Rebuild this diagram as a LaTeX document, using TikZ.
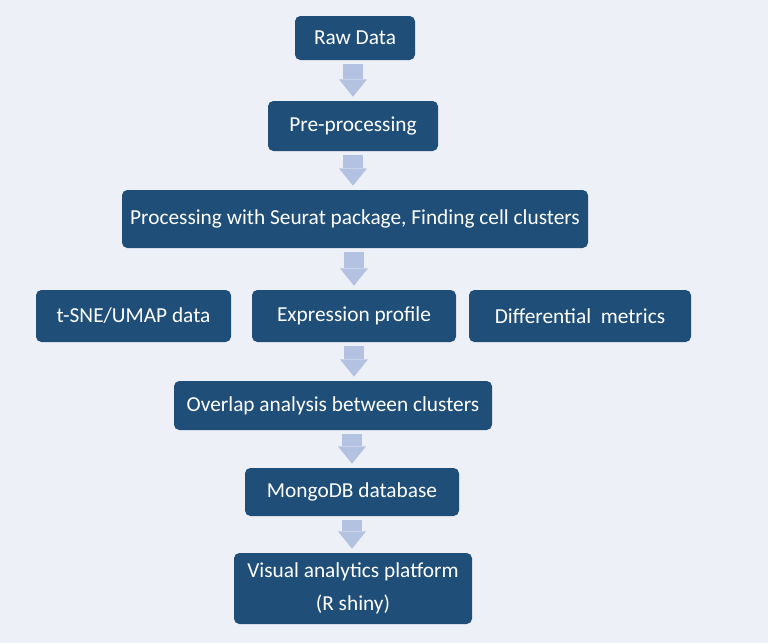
\documentclass[tikz,border=0pt]{standalone}
\usepackage{fontspec}
\setmainfont{Carlito}
\usetikzlibrary{arrows.meta}
\definecolor{boxblue}{HTML}{1F4E79}
\definecolor{bgblue}{HTML}{EEF0F7}
\definecolor{flowblue}{HTML}{B4C2E2}

\begin{document}
\begin{tikzpicture}[x=0.75pt, y=-0.75pt]
    \tikzstyle{stage} = [fill=boxblue, rounded corners=4pt, text=white, inner sep=0pt, align=center, font=\fontsize{16}{25}\selectfont]
    \tikzstyle{flow} = [draw=flowblue, line width=15pt, shorten <=3pt, shorten >=3pt, -{Triangle[length=13pt 0 0, width=21pt 0 0, line width=0pt]}]
    \fill[bgblue] (0,0) rectangle (768,643);
    \node [stage, minimum width=90pt, minimum height=33pt] at (355,38) (raw) {Raw Data};
    \node [stage, minimum width=127.5pt, minimum height=37.5pt] at (353,126) (pre) {Pre-processing};
    \node [stage, minimum width=349.5pt, minimum height=43.5pt] at (355,219) (seurat) {Processing with Seurat package, Finding cell clusters};
    \node [stage, minimum width=146.25pt, minimum height=39pt] at (133.5,316) (tsne) {t-SNE/UMAP data};
    \node [stage, minimum width=153pt, minimum height=39pt] at (354,316) (expr) {Expression profile};
    \node [stage, minimum width=166.5pt, minimum height=39pt] at (580,316) (diff) {Differential~~metrics};
    \node [stage, minimum width=238.5pt, minimum height=36.75pt] at (333,405.5) (overlap) {Overlap analysis between clusters};
    \node [stage, minimum width=160.5pt, minimum height=36pt] at (352,492) (mongo) {MongoDB database};
    \node [stage, minimum width=178.5pt, minimum height=53.25pt] at (353,588.5) (shiny) {Visual analytics platform\\(R shiny)};
    \draw [flow] (pre.north |- raw.south) to (pre.north);
    \draw [flow] (pre.south) to (pre.south |- seurat.north);
    \draw [flow] (expr.north |- seurat.south) to (expr.north);
    \draw [flow] (expr.south) to (expr.south |- overlap.north);
    \draw [flow] (mongo.north |- overlap.south) to (mongo.north);
    \draw [flow] (mongo.south) to (mongo.south |- shiny.north);
\end{tikzpicture}
\end{document}
